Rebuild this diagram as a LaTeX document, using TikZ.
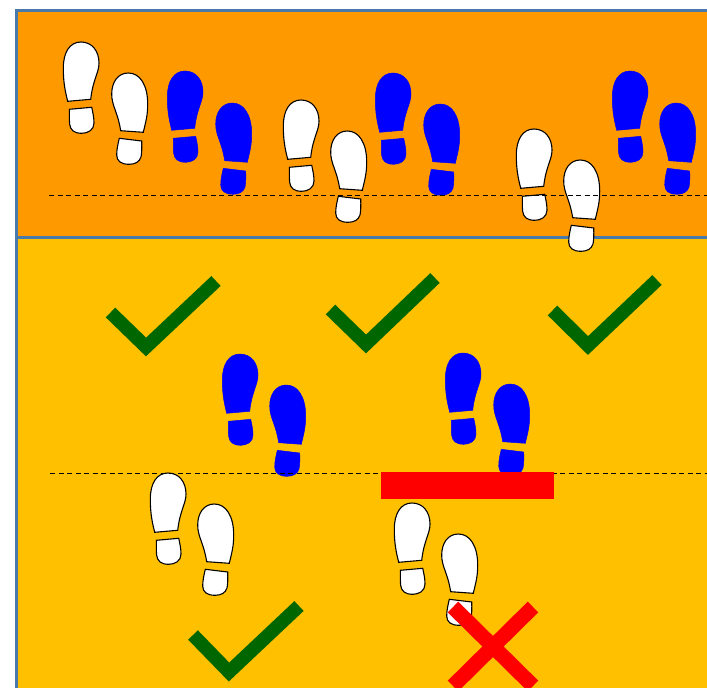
\documentclass[tikz,border=0pt]{standalone}
\definecolor{bandorange}{HTML}{FF9900}
\definecolor{bandyellow}{HTML}{FFC000}
\definecolor{frameblue}{HTML}{4A7AAB}
\definecolor{tickgreen}{HTML}{006600}
\tikzset{
  whiteshoe/.style={draw=black,fill=white,line width=1.1pt},
  blueshoe/.style={draw=blue,fill=blue,line width=0.5pt},
  bandline/.style={draw=frameblue,line width=3pt},
  tick/.style={draw=tickgreen,line width=13.5pt,miter limit=10},
  cross/.style={draw=red,line width=15pt},
  guide/.style={draw=black,line width=1.1pt,dash pattern=on 5pt off 3.5pt},
  leftshoe/.pic={
    \path[pic actions] (4.7,59.3) .. controls (1.5,47) and (0.3,38) .. (0.3,26) .. controls (0.3,10) and (7,0) .. (18,0) .. controls (29,0) and (36,9) .. (36,21) .. controls (36,31) and (30,37) .. (27.7,57.3) -- cycle;
    \path[pic actions] (6.3,67.3) -- (28.7,65.3) .. controls (30,71) and (31,76) .. (31,81) .. controls (31,88) and (25,91.3) .. (18.7,91.3) .. controls (11,91.3) and (7.2,88) .. (6.6,82) .. controls (6.3,77) and (6.3,72) .. (6.3,67.3) -- cycle;
  },
  rightshoe/.pic={
    \path[pic actions] (8.7,57.7) -- (31.3,59.3) .. controls (34,48) and (35.7,42) .. (35.7,31) .. controls (35.7,12) and (28,0) .. (16.3,0) .. controls (6,0) and (-0.3,9) .. (-0.3,21) .. controls (-0.3,33) and (5.5,38) .. (8.7,57.7) -- cycle;
    \path[pic actions] (7.3,65.3) -- (29.7,68) .. controls (29.9,74) and (29.9,80) .. (29,84) .. controls (27.5,89) and (23,91.3) .. (17,91.3) .. controls (9,91.3) and (4.7,88) .. (4.7,82) .. controls (4.7,76) and (6,71) .. (7.3,65.3) -- cycle;
  }
}
\begin{document}
\begin{tikzpicture}[x=1pt,y=-1pt]
\useasboundingbox (0,0) rectangle (707,688);
\clip (0,0) rectangle (707,688);
% bands
\fill[bandorange] (16,10) rectangle (707,237);
\fill[bandyellow] (16,237) rectangle (707,688);
\draw[bandline] (709,10) -- (16,10) -- (16,690);
\draw[bandline] (16,237) -- (707,237);
% top shoes
\pic[whiteshoe] at (63,42) {leftshoe};
\pic[whiteshoe] at (112,73) {rightshoe};
\pic[blueshoe] at (167,71) {leftshoe};
\pic[blueshoe] at (216,103) {rightshoe};
\pic[whiteshoe] at (283,100) {leftshoe};
\pic[whiteshoe] at (331,131) {rightshoe};
\pic[blueshoe] at (375,73) {leftshoe};
\pic[blueshoe] at (424,104) {rightshoe};
\pic[whiteshoe] at (516,129) {leftshoe};
\pic[whiteshoe] at (564,160) {rightshoe};
\pic[blueshoe] at (612,71) {leftshoe};
\pic[blueshoe] at (660,103) {rightshoe};
% lower shoes
\pic[blueshoe] at (222,354) {leftshoe};
\pic[blueshoe] at (270,385) {rightshoe};
\pic[whiteshoe] at (150,473) {leftshoe};
\pic[whiteshoe] at (198,504) {rightshoe};
\pic[blueshoe] at (445,353) {leftshoe};
\pic[blueshoe] at (494,384) {rightshoe};
\pic[whiteshoe] at (394,503) {leftshoe};
\pic[whiteshoe] at (442,534) {rightshoe};
% guides
\draw[guide] (49,195.5) -- (707,195.5);
\draw[guide] (50,473.5) -- (707,473.5);
% bar
\fill[red] (381,472.3) rectangle (554.3,499.3);
% ticks
\draw[tick] (110.5,312.5) -- (146,347) -- (216,281);
\draw[tick] (330.5,309.5) -- (366,344) -- (435,278);
\draw[tick] (552.5,310.5) -- (588,345.5) -- (657,280);
\draw[tick] (193,635) -- (229,672) -- (299,606);
% cross
\draw[cross] (453,607) -- (533,686);
\draw[cross] (533,607) -- (453,686);
\end{tikzpicture}
\end{document}
